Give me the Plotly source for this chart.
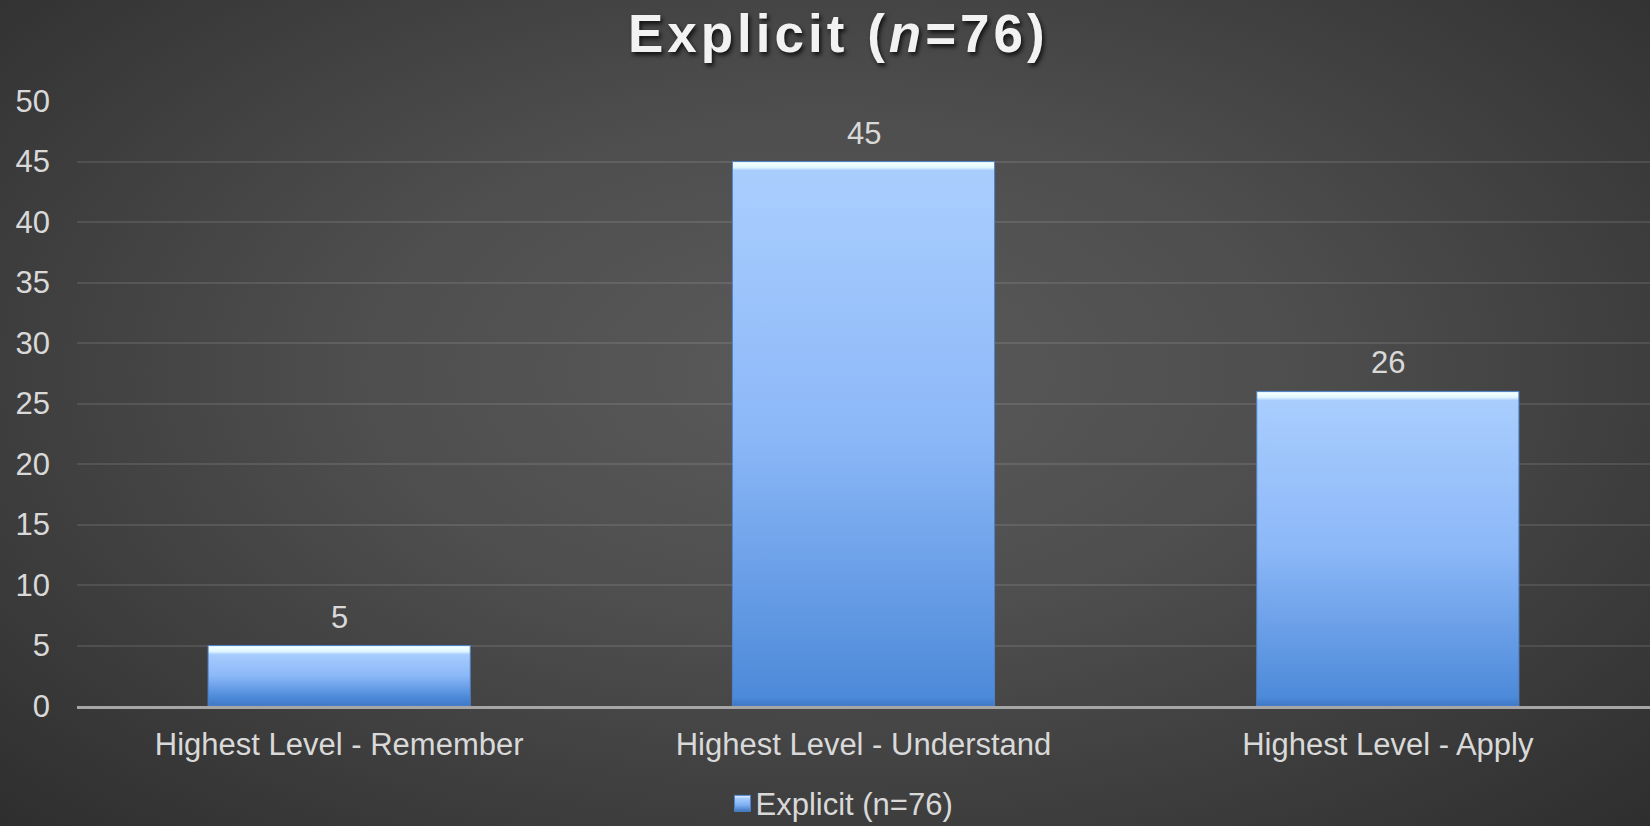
import plotly.graph_objects as go

# Highest Bloom's level reached, explicit group
categories = ["Highest Level - Remember", "Highest Level - Understand", "Highest Level - Apply"]
counts = [5, 45, 26]
series_name = "Explicit (n=76)"
title_html = "<b>Explicit (<i>n</i>=76)</b>"
y_ticks = [0, 5, 10, 15, 20, 25, 30, 35, 40, 45, 50]

FONT = "Liberation Sans, Arial, sans-serif"
TEXT = "#d9d9d9"

fig = go.Figure()
fig.add_trace(go.Bar(
    x=categories,
    y=counts,
    name=series_name,
    marker=dict(color="#7fb0f2", line=dict(color="#4f82c8", width=1)),
    showlegend=True,
))

# value labels above each bar
for c, v in zip(categories, counts):
    fig.add_annotation(
        x=c, y=v, text=str(v), showarrow=False,
        xref="x", yref="y", yanchor="bottom", yshift=9,
        font=dict(family=FONT, size=31, color=TEXT),
    )

fig.update_layout(
    width=1650,
    height=826,
    margin=dict(l=77, r=0, t=101, b=120, autoexpand=False),
    paper_bgcolor="rgba(0,0,0,0)",
    plot_bgcolor="rgba(0,0,0,0)",
    bargap=0.5,
    font=dict(family=FONT, size=31, color=TEXT),
    title=dict(
        text=title_html,
        x=0.484, xref="paper", xanchor="center",
        y=0.96, yref="container", yanchor="middle",
        font=dict(family=FONT, size=53, color="#f2f2f2",
                  shadow="2px 3px 4px rgba(0,0,0,0.75)"),
    ),
    legend=dict(
        orientation="h",
        x=0.4876, xanchor="center",
        y=0.027, yref="container", yanchor="middle",
        font=dict(family=FONT, size=31, color=TEXT),
        bgcolor="rgba(0,0,0,0)",
        itemwidth=30,
    ),
    xaxis=dict(
        showgrid=False,
        showline=True, linecolor="#a6a6a6", linewidth=3,
        ticks="", ticklabelstandoff=9,
        tickfont=dict(family=FONT, size=31, color=TEXT),
    ),
    yaxis=dict(
        range=[0, 50],
        tickvals=y_ticks,
        showgrid=True, gridcolor="rgba(255,255,255,0.1)", gridwidth=2,
        zeroline=False, showline=False,
        ticks="", ticklabelstandoff=26,
        tickfont=dict(family=FONT, size=31, color=TEXT),
    ),
)

# Gradient fills for the bars and a radial page background
post = r"""
document.body.style.margin = '0';
var gd = document.getElementById('{plot_id}');
gd.style.background = 'radial-gradient(ellipse at 50% 45%, #5a5a5a 0%, #4e4e4e 40%, #2e2e2e 100%)';
function makeGrad(defs, id, y0, h) {
  var ns = 'http://www.w3.org/2000/svg';
  var old = document.getElementById(id);
  if (old) old.parentNode.removeChild(old);
  var g = document.createElementNS(ns, 'linearGradient');
  g.setAttribute('id', id);
  g.setAttribute('gradientUnits', 'userSpaceOnUse');
  g.setAttribute('x1', 0); g.setAttribute('x2', 0);
  g.setAttribute('y1', y0); g.setAttribute('y2', y0 + h);
  var px = function (p) { return Math.max(0, Math.min(1, p / h)); };
  var stops = [
    [0, '#cfeeff'], [px(2), '#f2ffff'], [px(6), '#dff6ff'], [px(9), '#a9cefd'],
    [0.08 > px(9) ? 0.08 : px(10), '#a6cbfd'], [0.5, '#8cb8f8'],
    [px(h - 9), '#4d8ad9'], [px(h - 4), '#4580d0'], [1, '#3f77c2']
  ];
  stops.forEach(function (s) {
    var st = document.createElementNS(ns, 'stop');
    st.setAttribute('offset', s[0]);
    st.setAttribute('stop-color', s[1]);
    g.appendChild(st);
  });
  defs.appendChild(g);
}
function legendGrad(defs, id) {
  var ns = 'http://www.w3.org/2000/svg';
  var old = document.getElementById(id);
  if (old) old.parentNode.removeChild(old);
  var g = document.createElementNS(ns, 'linearGradient');
  g.setAttribute('id', id);
  g.setAttribute('x1', 0); g.setAttribute('x2', 0);
  g.setAttribute('y1', 0); g.setAttribute('y2', 1);
  [[0, '#eaf8ff'], [0.2, '#a6cbfd'], [0.6, '#7fb0f2'], [1, '#3f77c2']].forEach(function (s) {
    var st = document.createElementNS(ns, 'stop');
    st.setAttribute('offset', s[0]);
    st.setAttribute('stop-color', s[1]);
    g.appendChild(st);
  });
  defs.appendChild(g);
}
function styleBars() {
  var svg = gd.querySelector('.main-svg');
  if (!svg) return;
  var defs = svg.querySelector('defs');
  gd.querySelectorAll('.barlayer .point path').forEach(function (p, i) {
    var b = p.getBBox();
    makeGrad(defs, 'barfill' + i, b.y, b.height);
    p.style.fill = 'url(#barfill' + i + ')';
  });
  gd.querySelectorAll('.legend .legendpoints path').forEach(function (p, i) {
    p.setAttribute('d', 'M8,8H-8V-8H8Z');
    legendGrad(defs, 'legfill' + i);
    p.style.fill = 'url(#legfill' + i + ')';
    p.style.stroke = '#4f82c8';
    p.style.strokeWidth = '1px';
  });
  gd.querySelectorAll('.legend .legendtext').forEach(function (t) {
    if (!t.dataset.shifted) {
      t.setAttribute('x', parseFloat(t.getAttribute('x') || 0) - 7);
      t.dataset.shifted = '1';
    }
  });
  gd.querySelectorAll('.gtitle').forEach(function (t) {
    t.style.letterSpacing = '4px';
  });
}
styleBars();
if (gd.on) gd.on('plotly_afterplot', styleBars);
setTimeout(styleBars, 50);
"""

fig.write_html("out.html", post_script=post)
